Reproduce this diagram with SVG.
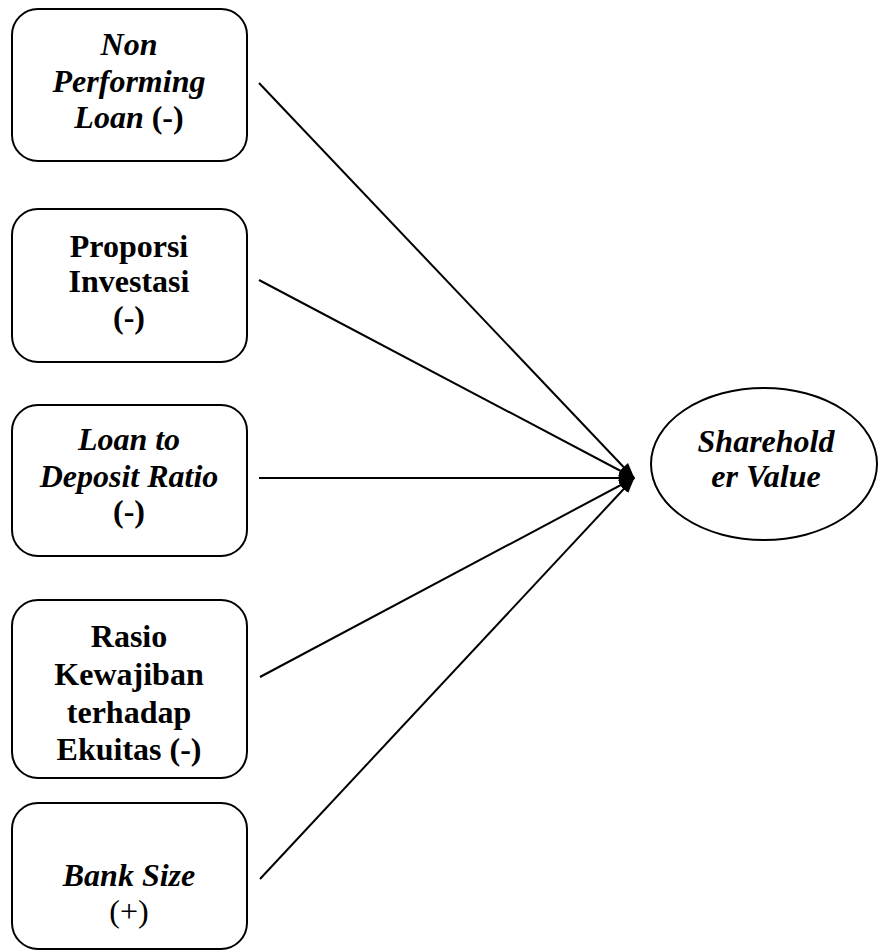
<svg xmlns="http://www.w3.org/2000/svg" width="878" height="951" viewBox="0 0 878 951">
<defs>
<marker id="arr" markerWidth="16" markerHeight="12" refX="15" refY="6" orient="auto" markerUnits="userSpaceOnUse">
<path d="M0,0 L16,6 L0,12 Z" fill="#000"/>
</marker>
<style>
.box{fill:#fff;stroke:#000;stroke-width:2}
.t{font-family:"Liberation Serif","Times New Roman",serif;font-size:32px;font-weight:bold;text-anchor:middle;fill:#000}
.i{font-style:italic}
.c{stroke:#000;stroke-width:2;fill:none;marker-end:url(#arr)}
</style>
</defs>
<rect width="878" height="951" fill="#fff"/>
<g id="connectors">
<line class="c" x1="259" y1="83" x2="634" y2="478"/>
<line class="c" x1="259" y1="280" x2="634" y2="478"/>
<line class="c" x1="259" y1="478" x2="634" y2="478"/>
<line class="c" x1="260" y1="677" x2="634" y2="478"/>
<line class="c" x1="260" y1="879" x2="634" y2="478"/>
</g>
<g id="npl">
<rect class="box" x="12" y="9" width="235" height="152" rx="26"/>
<text class="t i" x="129" y="55">Non</text>
<text class="t i" x="129" y="92">Performing</text>
<text class="t" x="129" y="128"><tspan class="i">Loan</tspan> (-)</text>
</g>
<g id="pi">
<rect class="box" x="12" y="209" width="235" height="153" rx="26"/>
<text class="t" x="129" y="257">Proporsi</text>
<text class="t" x="129" y="292">Investasi</text>
<text class="t" x="129" y="328">(-)</text>
</g>
<g id="ldr">
<rect class="box" x="12" y="405" width="235" height="151" rx="26"/>
<text class="t i" x="129" y="450">Loan to</text>
<text class="t i" x="129" y="487">Deposit Ratio</text>
<text class="t" x="129" y="522">(-)</text>
</g>
<g id="rke">
<rect class="box" x="12" y="600" width="235" height="178" rx="26"/>
<text class="t" x="129" y="647">Rasio</text>
<text class="t" x="129" y="685">Kewajiban</text>
<text class="t" x="129" y="723">terhadap</text>
<text class="t" x="129" y="760">Ekuitas (-)</text>
</g>
<g id="bs">
<rect class="box" x="12" y="803" width="235" height="146" rx="26"/>
<text class="t i" x="129" y="886">Bank Size</text>
<text class="t" x="129" y="922" style="font-weight:normal">(+)</text>
</g>
<g id="sv">
<ellipse class="box" cx="764" cy="464" rx="113" ry="76"/>
<text class="t i" x="766" y="452">Sharehold</text>
<text class="t i" x="766" y="487">er Value</text>
</g>
</svg>
